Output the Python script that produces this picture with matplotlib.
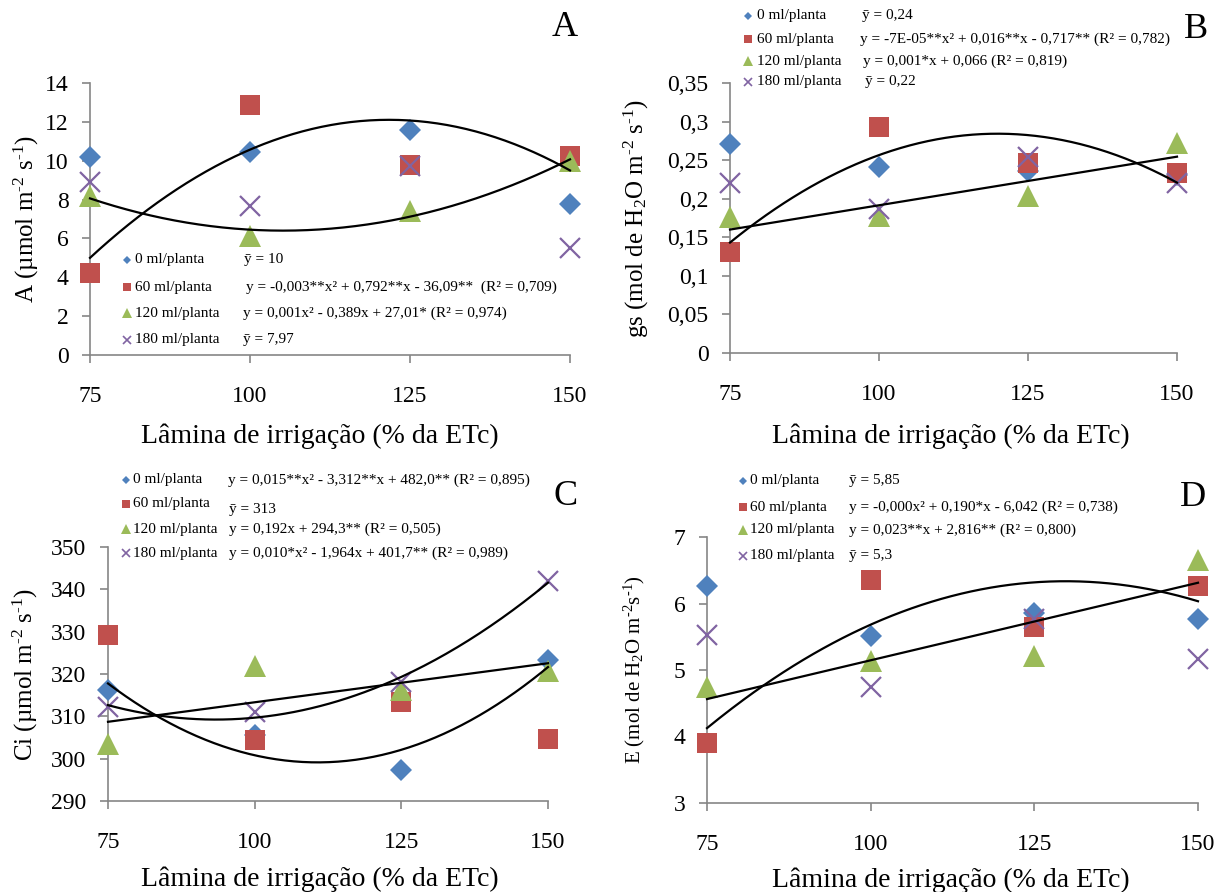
import numpy as np
import matplotlib
matplotlib.use("Agg")
import matplotlib.pyplot as plt
from matplotlib.lines import Line2D

plt.rcParams['font.family'] = ['Liberation Serif', 'DejaVu Serif']
plt.rcParams['mathtext.fontset'] = 'custom'
plt.rcParams['mathtext.rm'] = 'Liberation Serif'
plt.rcParams['mathtext.it'] = 'Liberation Serif:italic'

# ---------------- data ----------------
x_levels = [75, 100, 125, 150]
doses = ['0 ml/planta', '60 ml/planta', '120 ml/planta', '180 ml/planta']

A_0 = [10.17, 10.43, 11.60, 7.77]
A_60 = [4.24, 12.85, 9.79, 10.26]
A_120 = [8.16, 6.15, 7.42, 9.97]
A_180 = [8.93, 7.65, 9.74, 5.53]

gs_0 = [0.271, 0.241, 0.236, 0.231]
gs_60 = [0.131, 0.293, 0.246, 0.233]
gs_120 = [0.176, 0.177, 0.204, 0.272]
gs_180 = [0.220, 0.187, 0.254, 0.220]

Ci_0 = [316.2, 305.5, 297.4, 323.2]
Ci_60 = [329.2, 304.5, 313.4, 304.6]
Ci_120 = [303.5, 322.0, 316.2, 320.8]
Ci_180 = [312.2, 311.0, 318.0, 342.0]

E_0 = [6.27, 5.51, 5.85, 5.77]
E_60 = [3.90, 6.36, 5.64, 6.26]
E_120 = [4.74, 5.14, 5.21, 6.66]
E_180 = [5.53, 4.74, 5.77, 5.16]

A_eq = ['ȳ = 10',
        'y = -0,003**x² + 0,792**x - 36,09**  (R² = 0,709)',
        'y = 0,001x² - 0,389x + 27,01* (R² = 0,974)',
        'ȳ = 7,97']
gs_eq = ['ȳ = 0,24',
         'y = -7E-05**x² + 0,016**x - 0,717** (R² = 0,782)',
         'y = 0,001*x + 0,066 (R² = 0,819)',
         'ȳ = 0,22']
Ci_eq = ['y = 0,015**x² - 3,312**x + 482,0** (R² = 0,895)',
         'ȳ = 313',
         'y = 0,192x + 294,3** (R² = 0,505)',
         'y = 0,010*x² - 1,964x + 401,7** (R² = 0,989)']
E_eq = ['ȳ = 5,85',
        'y = -0,000x² + 0,190*x - 6,042 (R² = 0,738)',
        'y = 0,023**x + 2,816** (R² = 0,800)',
        'ȳ = 5,3']

# trend-line polynomial degree per series (None = mean only)
A_deg = [None, 2, 2, None]
gs_deg = [None, 2, 1, None]
Ci_deg = [2, None, 1, 2]
E_deg = [None, 2, 1, None]

A_yticks = [0, 2, 4, 6, 8, 10, 12, 14]
gs_yticks = [0, 0.05, 0.1, 0.15, 0.2, 0.25, 0.3, 0.35]
Ci_yticks = [290, 300, 310, 320, 330, 340, 350]
E_yticks = [3, 4, 5, 6, 7]

xlabel = 'Lâmina de irrigação (% da ETc)'

# ---------------- style ----------------
W, H = 1218, 892
colors = ['#4F81BD', '#C0504D', '#9BBB59', '#8064A2']
markers = ['D', 's', '^', 'x']
msizes = [11.5, 14.5, 16, 15]
leg_msizes = [4.5, 6, 7, 6]
axis_gray = '#868686'
HY = '\u2010'  # hyphen used in superscripts


def fx(x):
    return x / W


def fy(y):
    return 1 - y / H


def sup(s):
    return '$^{\\mathregular{' + s + '}}$'


def sub(s):
    return '$_{\\mathregular{' + s + '}}$'


fig = plt.figure(figsize=(W / 100, H / 100), dpi=100)

panels = [
    dict(series=[A_0, A_60, A_120, A_180], deg=A_deg, eq=A_eq, yt=A_yticks,
         rect=(90, 570, 83, 355),
         ylabel='A (µmol m' + sup(HY + '2') + ' s' + sup(HY + '1') + ')',
         ylsize=18, ylx=26, xlpos=(320, 436), letter='A', letpos=(565, 27),
         rows=[260, 287, 313, 340], eqy=[260, 287, 313, 340], mx=127, tx=135,
         eqx=[244, 246, 243, 243]),
    dict(series=[gs_0, gs_60, gs_120, gs_180], deg=gs_deg, eq=gs_eq, yt=gs_yticks,
         rect=(730, 1177, 83, 353),
         ylabel='gs (mol de H' + sub('2') + 'O m' + sup(HY + '2') + ' s' + sup(HY + '1') + ')',
         ylsize=18, ylx=636, xlpos=(951, 436), letter='B', letpos=(1196, 29),
         rows=[16, 39, 61, 82], eqy=[16, 39, 61, 82], mx=748, tx=757,
         eqx=[862, 860, 863, 865]),
    dict(series=[Ci_0, Ci_60, Ci_120, Ci_180], deg=Ci_deg, eq=Ci_eq, yt=Ci_yticks,
         rect=(108, 548, 547, 801),
         ylabel='Ci (µmol m' + sup(HY + '2') + ' s' + sup(HY + '1') + ')',
         ylsize=18, ylx=25, xlpos=(320, 879), letter='C', letpos=(566, 496),
         rows=[480, 504, 529, 553], eqy=[480, 510, 529, 553], mx=126, tx=133,
         eqx=[228, 229, 229, 229]),
    dict(series=[E_0, E_60, E_120, E_180], deg=E_deg, eq=E_eq, yt=E_yticks,
         rect=(707, 1198, 537, 803),
         ylabel='E (mol de H' + sub('2') + 'O m' + sup(HY + '2') + 's' + sup(HY + '1') + ')',
         ylsize=15, ylx=634, xlpos=(951, 880), letter='D', letpos=(1193, 497),
         rows=[481, 507, 530, 556], eqy=[481, 507, 530, 556], mx=743, tx=750,
         eqx=[849, 849, 849, 849]),
]

for p in panels:
    l, r, t, b = p['rect']
    ax = fig.add_axes([fx(l), fy(b), (r - l) / W, (b - t) / H])
    ax.set_facecolor('none')
    for s in ['top', 'right']:
        ax.spines[s].set_visible(False)
    for s in ['left', 'bottom']:
        ax.spines[s].set_color(axis_gray)
        ax.spines[s].set_linewidth(1.2)
    ax.set_xlim(75, 150)
    ax.set_ylim(p['yt'][0], p['yt'][-1])
    ax.set_xticks(x_levels)
    ax.set_xticklabels([str(v) for v in x_levels])
    ax.set_yticks(p['yt'])
    ax.set_yticklabels([f'{v:g}'.replace('.', ',') for v in p['yt']])
    ax.tick_params(axis='both', direction='out', length=5.5, width=1.2, color=axis_gray,
                   labelsize=17, labelcolor='black')
    ax.tick_params(axis='x', pad=17)
    ax.tick_params(axis='y', pad=10)

    xs = np.array(x_levels, dtype=float)
    for i, ys in enumerate(p['series']):
        kw = dict(color=colors[i], markersize=msizes[i], linestyle='none',
                  marker=markers[i], clip_on=False, zorder=3 + i * 0.1)
        kw['markeredgewidth'] = 1.6 if markers[i] == 'x' else 0
        ax.plot(xs, ys, **kw)
    for i, ys in enumerate(p['series']):
        d = p['deg'][i]
        if d is not None:
            coef = np.polyfit(xs, ys, d)
            xx = np.linspace(75, 150, 200)
            ax.plot(xx, np.polyval(coef, xx), color='black', lw=1.6, clip_on=False, zorder=5)

    # axis titles
    fig.text(fx(p['ylx']), fy((t + b) / 2), p['ylabel'], rotation=90, fontsize=p['ylsize'],
             ha='center', va='center')
    fig.text(fx(p['xlpos'][0]), fy(p['xlpos'][1]), xlabel, fontsize=20, ha='center', va='center')
    fig.text(fx(p['letpos'][0]), fy(p['letpos'][1]), p['letter'], fontsize=26,
             ha='center', va='center')

    # legend / equations
    for i in range(4):
        yrow = p['rows'][i]
        fig.add_artist(Line2D([fx(p['mx'])], [fy(yrow)], transform=fig.transFigure,
                              marker=markers[i], color=colors[i], markersize=leg_msizes[i],
                              markeredgewidth=1.2 if markers[i] == 'x' else 0,
                              linestyle='none'))
        fig.text(fx(p['tx']), fy(yrow), doses[i], fontsize=11, ha='left', va='center')
        fig.text(fx(p['eqx'][i]), fy(p['eqy'][i]), p['eq'][i], fontsize=11, ha='left', va='center')

fig.savefig('out.png', dpi=100)
